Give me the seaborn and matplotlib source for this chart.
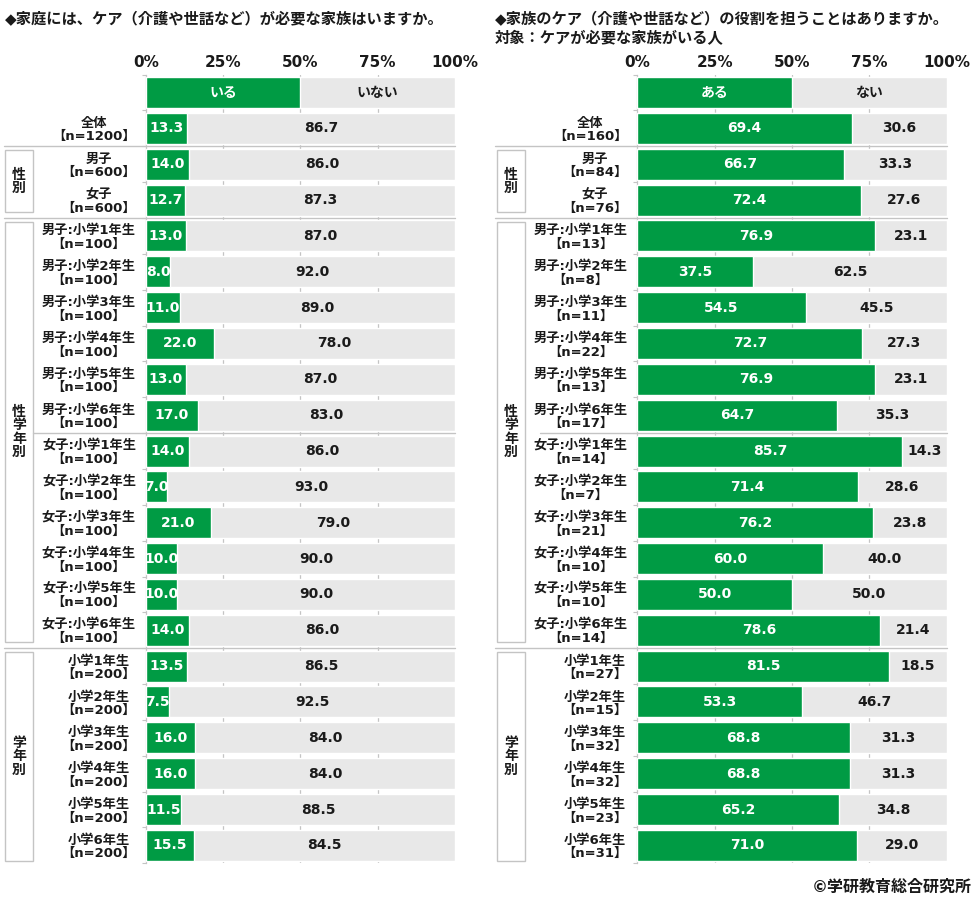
import matplotlib
matplotlib.use("Agg")
import matplotlib.pyplot as plt
import seaborn as sns
import pandas as pd
from matplotlib.patches import Rectangle
from matplotlib.lines import Line2D
from matplotlib.transforms import blended_transform_factory

# ---------------- data ----------------
categories = ["全体", "男子", "女子",
              "男子:小学1年生", "男子:小学2年生", "男子:小学3年生",
              "男子:小学4年生", "男子:小学5年生", "男子:小学6年生",
              "女子:小学1年生", "女子:小学2年生", "女子:小学3年生",
              "女子:小学4年生", "女子:小学5年生", "女子:小学6年生",
              "小学1年生", "小学2年生", "小学3年生",
              "小学4年生", "小学5年生", "小学6年生"]

left_title = "◆家庭には、ケア（介護や世話など）が必要な家族はいますか。"
left_legend = ["いる", "いない"]
left_n = [1200, 600, 600,
          100, 100, 100, 100, 100, 100,
          100, 100, 100, 100, 100, 100,
          200, 200, 200, 200, 200, 200]
left_yes = [13.3, 14.0, 12.7,
            13.0, 8.0, 11.0, 22.0, 13.0, 17.0,
            14.0, 7.0, 21.0, 10.0, 10.0, 14.0,
            13.5, 7.5, 16.0, 16.0, 11.5, 15.5]
left_no = [86.7, 86.0, 87.3,
           87.0, 92.0, 89.0, 78.0, 87.0, 83.0,
           86.0, 93.0, 79.0, 90.0, 90.0, 86.0,
           86.5, 92.5, 84.0, 84.0, 88.5, 84.5]

right_title = ["◆家族のケア（介護や世話など）の役割を担うことはありますか。",
               "対象：ケアが必要な家族がいる人"]
right_legend = ["ある", "ない"]
right_n = [160, 84, 76,
           13, 8, 11, 22, 13, 17,
           14, 7, 21, 10, 10, 14,
           27, 15, 32, 32, 23, 31]
right_yes = [69.4, 66.7, 72.4,
             76.9, 37.5, 54.5, 72.7, 76.9, 64.7,
             85.7, 71.4, 76.2, 60.0, 50.0, 78.6,
             81.5, 53.3, 68.8, 68.8, 65.2, 71.0]
right_no = [30.6, 33.3, 27.6,
            23.1, 62.5, 45.5, 27.3, 23.1, 35.3,
            14.3, 28.6, 23.8, 40.0, 50.0, 21.4,
            18.5, 46.7, 31.3, 31.3, 34.8, 29.0]

group_names = ["性別", "性学年別", "学年別"]
group_first = [1, 3, 15]   # index in categories
group_last = [2, 14, 20]

xticks = [0, 25, 50, 75, 100]
xtick_labels = ["0%", "25%", "50%", "75%", "100%"]
copyright_text = "©学研教育総合研究所"

# ---------------- style ----------------
GREEN = "#009B44"
GRAY = "#E8E8E8"
LINE = "#C4C4C4"
TEXT = "#1A1A1A"

sns.set_theme(style="white")
plt.rcParams['font.family'] = ['DejaVu Sans', 'Noto Sans CJK JP']

W, H = 980, 901
fig = plt.figure(figsize=(W / 100, H / 100), dpi=100)

def fx(px):
    return px / W

def fy(py):
    return 1 - py / H

ax_top_px, ax_bot_px = 74.6, 863.3


def draw_panel(ax, ns, yes, no, legend, box_x0, box_x1, sep_x0, mid_sep_x0, right_px):
    rows = [""] + [f"{c}\n【n={n}】" for c, n in zip(categories, ns)]
    yes_all = [50.0] + list(yes)
    no_all = [50.0] + list(no)
    df = pd.DataFrame({"row": rows, "yes": yes_all,
                       "total": [a + b for a, b in zip(yes_all, no_all)]})
    for v in [25, 50, 75]:
        ax.axvline(v, color=LINE, lw=0.9, zorder=0.5)
    sns.barplot(data=df, x="total", y="row", order=rows, orient="h",
                color=GRAY, width=0.865, saturation=1, errorbar=None,
                ax=ax, zorder=2)
    sns.barplot(data=df, x="yes", y="row", order=rows, orient="h",
                color=GREEN, width=0.865, saturation=1, errorbar=None,
                ax=ax, zorder=3)
    ax.set_xlim(0, 100)
    ax.set_ylim(len(rows) - 0.5, -0.5)
    ax.set_xlabel("")
    ax.set_ylabel("")

    # value labels
    ax.text(25, 0, legend[0], ha="center", va="center", color="white",
            fontsize=10, fontweight="bold", zorder=5)
    ax.text(75, 0, legend[1], ha="center", va="center", color=TEXT,
            fontsize=10, fontweight="bold", zorder=5)
    for i, (a, b) in enumerate(zip(yes, no), start=1):
        ax.text(a / 2, i, f"{a:.1f}", ha="center", va="center", color="white",
                fontsize=10, fontweight="bold", zorder=5)
        ax.text(a + b / 2, i, f"{b:.1f}", ha="center", va="center", color=TEXT,
                fontsize=10, fontweight="bold", zorder=5)

    # axes
    ax.xaxis.tick_top()
    ax.set_xticks(xticks)
    ax.set_xticklabels(xtick_labels)
    ax.tick_params(axis="x", length=0, pad=3, labelsize=11, labelcolor=TEXT)
    for t in ax.get_xticklabels():
        t.set_fontweight("bold")
    ax.set_yticks(range(len(rows)))
    ax.set_yticks([r - 0.5 for r in range(len(rows) + 1)], minor=True)
    ax.tick_params(axis="y", which="major", length=0, pad=7, labelsize=9.5,
                   labelcolor=TEXT)
    ax.tick_params(axis="y", which="minor", length=3, width=0.8, color=LINE,
                   left=True)
    for t in ax.get_yticklabels():
        t.set_fontweight("bold")
        t.set_multialignment("center")
        t.set_linespacing(1.05)
    for s in ["top", "right", "bottom"]:
        ax.spines[s].set_visible(False)
    ax.spines["left"].set_color(LINE)
    ax.spines["left"].set_linewidth(0.9)

    tr = blended_transform_factory(fig.transFigure, ax.transData)
    # separators between groups
    for yb in [1.5, 3.5, 15.5]:
        ax.add_line(Line2D([fx(sep_x0), fx(right_px)], [yb, yb], transform=tr,
                           color=LINE, lw=1.0, clip_on=False, zorder=1))
    ax.add_line(Line2D([fx(mid_sep_x0), fx(right_px)], [9.5, 9.5], transform=tr,
                       color=LINE, lw=1.0, clip_on=False, zorder=1))
    # group boxes
    for k, (name, g0, g1) in enumerate(zip(group_names, group_first, group_last)):
        top = g0 + 1 - 0.39
        bot = g1 + 1 + (0.43 if k == 2 else 0.34)
        ax.add_patch(Rectangle((fx(box_x0), top), fx(box_x1) - fx(box_x0), bot - top,
                               transform=tr, fill=False, edgecolor=LINE, lw=1.0,
                               clip_on=False))
        ax.text(fx((box_x0 + box_x1) / 2), (top + bot) / 2, "\n".join(name),
                transform=tr, ha="center", va="center", fontsize=10,
                fontweight="bold", color=TEXT, linespacing=0.95)


ax_h = (ax_bot_px - ax_top_px) / H
axL = fig.add_axes([fx(145.7), fy(ax_bot_px), 309.3 / W, ax_h])
axR = fig.add_axes([fx(637.3), fy(ax_bot_px), 309.4 / W, ax_h])

draw_panel(axL, left_n, left_yes, left_no, left_legend, 5, 33, 4, 33, 455)
draw_panel(axR, right_n, right_yes, right_no, right_legend, 497, 525, 495, 540, 947)

fig.text(fx(5), fy(20), left_title, ha="left", va="center", fontsize=11,
         fontweight="bold", color=TEXT)
fig.text(fx(495), fy(19), right_title[0], ha="left", va="center", fontsize=11,
         fontweight="bold", color=TEXT)
fig.text(fx(495), fy(39), right_title[1], ha="left", va="center", fontsize=11,
         fontweight="bold", color=TEXT)
fig.text(fx(972), fy(887), copyright_text, ha="right", va="center", fontsize=11.5,
         fontweight="bold", color=TEXT)

fig.savefig("out.png", dpi=100, facecolor="white")
